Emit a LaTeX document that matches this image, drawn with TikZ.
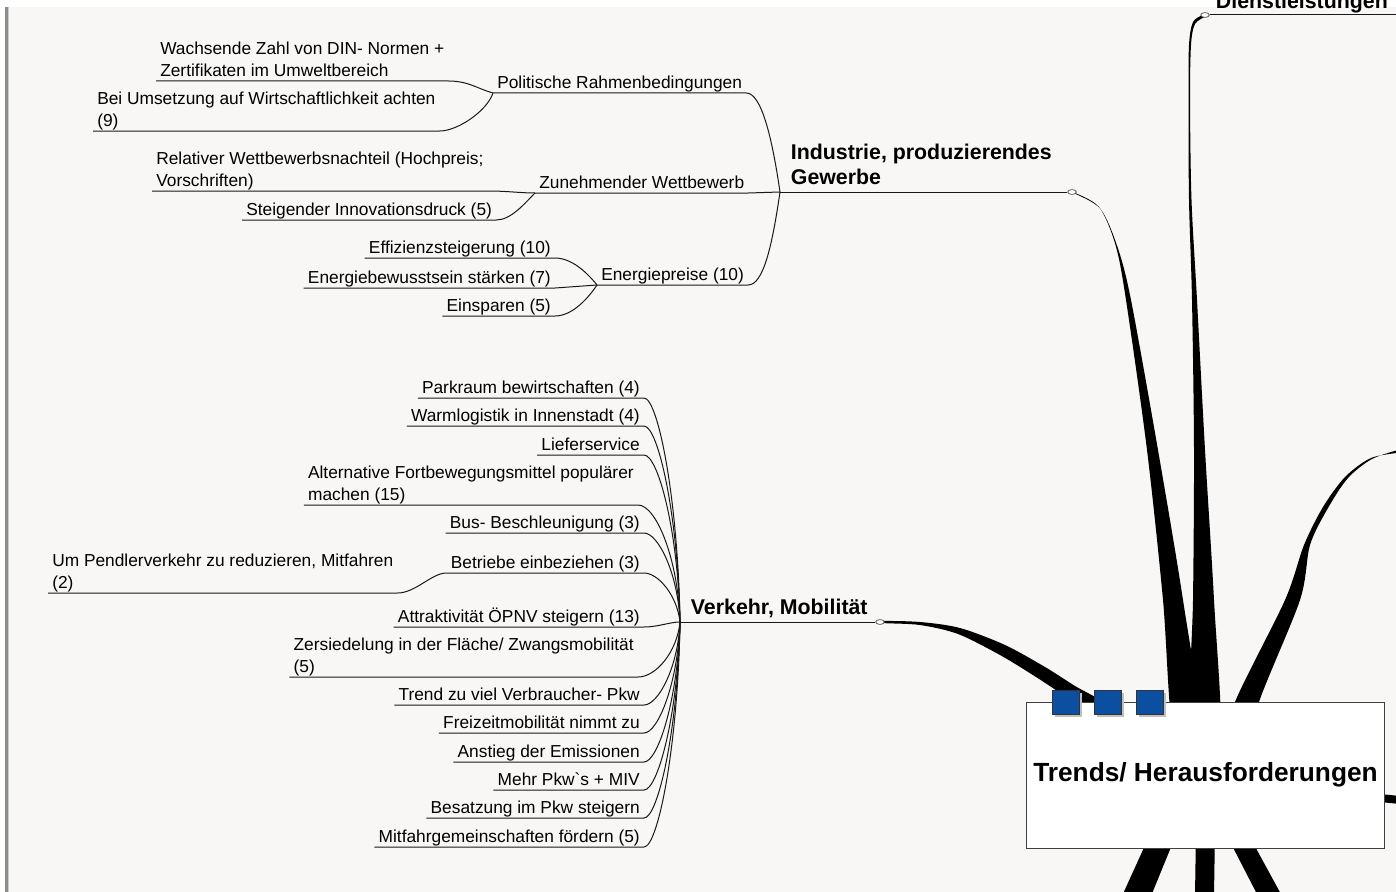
\documentclass[tikz,border=0pt]{standalone}
\usepackage{fontspec}
\setmainfont{Liberation Sans}[Ligatures=TeXOff]
\usetikzlibrary{shapes.geometric,shadows}

\definecolor{paper}{RGB}{248,247,245}
\definecolor{pinblue}{RGB}{12,78,160}
\newcommand{\leaffont}{\fontsize{13}{16.5}\selectfont}
\newcommand{\hubfont}{\fontsize{16}{18.75}\selectfont\bfseries}
\newcommand{\lowstrut}{\rule[-3.2pt]{0pt}{1pt}}
\newcommand{\hubstrut}{\rule[-5.5pt]{0pt}{1pt}}

\tikzset{
  twigs/.style={font=\leaffont, inner xsep=3pt, inner ysep=0pt, align=left},
  twig/.style={twigs, text depth=3.2pt},
  hub/.style={font=\hubfont, inner xsep=8pt, inner ysep=0pt, align=left, anchor=south west},
  wire/.style={line width=0.75pt, black!90},
  knob/.style={ellipse, draw=black!75, fill=white, line width=0.5pt, minimum width=6.5pt, minimum height=3.6pt, inner sep=0pt},
  pin/.style={draw=black!80, fill=pinblue, line width=0.6pt, minimum width=20pt, minimum height=18pt, inner sep=0pt,
    drop shadow={shadow xshift=2pt, shadow yshift=-2pt, fill=black!25, opacity=1}},
  stem/.style={fill=black}
}

\begin{document}
\begin{tikzpicture}[x=0.75pt, y=-0.75pt]
    \useasboundingbox (0,0) rectangle (1396,892);
    \clip (0,0) rectangle (1396,892);
    % window background and frame
    \fill[paper] (0,0) rectangle (1396,892);
    \fill[white] (0,0) rectangle (1396,7);
    \fill[white] (0,0) rectangle (5,892);
    \fill[black!45] (5,7) rectangle (8,892);
    \fill[black!20] (8,7) rectangle (9,892);

    % thick stems running into the centre
    \fill[stem] plot[smooth cycle, tension=0.5] coordinates {(1203,15) (1193,22) (1189,45) (1188.5,100) (1189,200) (1192,300) (1194,450) (1193,600) (1190,740) (1220,740) (1214,600) (1205,450) (1197,300) (1191.5,200) (1190,100) (1191,45) (1195,24) (1206,16)};
    \fill[stem] plot[smooth cycle, tension=0.5] coordinates {(1072,191.5) (1099,207) (1115.5,245) (1126,300) (1147,450) (1163,600) (1174,740) (1202,740) (1183,600) (1158,450) (1131,300) (1117.5,247) (1100.5,209) (1074,193)};
    \fill[stem] plot[smooth cycle, tension=0.5] coordinates {(1402,449) (1372,459) (1348,478) (1328,508) (1310,545) (1300,600) (1259,702) (1255,740) (1230,740) (1235,702) (1285,600) (1304,545) (1323,507) (1345,477) (1371,458) (1402,452)};
    \fill[stem] plot[smooth cycle, tension=0.5] coordinates {(882,621) (920,622) (960,628) (1005,645) (1045,667) (1075,686) (1105,704) (1095,718) (1066,697) (1036,677) (1000,655) (958,634) (920,625) (882,623)};
    \fill[stem] (1380,794) -- (1400,796) -- (1400,804) -- (1380,802) -- cycle;
    \fill[stem] (1152,830) -- (1178,830) -- (1151,896) -- (1122,896) -- cycle;
    \fill[stem] (1196,830) -- (1215,830) -- (1214,896) -- (1195,896) -- cycle;
    \fill[stem] (1224,830) -- (1246,830) -- (1282,896) -- (1258,896) -- cycle;

    % central topic
    \node[draw=black!75, fill=white, line width=0.75pt, minimum width=269pt, minimum height=109.5pt, inner sep=0pt,
      font=\fontsize{19.7}{24}\selectfont\bfseries] (trends) at (1205.5,775) {Trends/ Herausforderungen};
    \node[pin] (pinA) at (1066,702) {};
    \node[pin] (pinB) at (1108,702) {};
    \node[pin] (pinC) at (1150,702) {};

    % Dienstleistungen (cut off at the top)
    \node[knob] (dlk) at (1205,15) {};
    \node[hub] (dl) at (1205,16) {Dienstleistungen\hubstrut};
    \coordinate (dlend) at (1396,15);
    \draw[wire] (dlk.east) -- (dlend);

    % Industrie, produzierendes Gewerbe
    \node[hub] (ind) at (780,192) {Industrie, produzierendes\\Gewerbe\hubstrut};
    \node[knob] (indk) at (1072,192) {};
    \draw[wire] (ind.south west) -- (indk.west);
    \node[twig, anchor=south west] (pol) at (493,93) {Politische Rahmenbedingungen};
    \node[twig, anchor=south west] (zun) at (535,193) {Zunehmender Wettbewerb};
    \node[twig, anchor=south west] (ene) at (597,285) {Energiepreise (10)};
    \node[twigs, anchor=south west] (wac) at (156,81) {Wachsende Zahl von DIN- Normen +\\Zertifikaten im Umweltbereich\lowstrut};
    \node[twigs, anchor=south west] (bei) at (93,131) {Bei Umsetzung auf Wirtschaftlichkeit achten\\(9)\lowstrut};
    \node[twigs, anchor=south west] (rel) at (152,191) {Relativer Wettbewerbsnachteil (Hochpreis;\\Vorschriften)\lowstrut};
    \node[twig, anchor=south west] (ste) at (242,220) {Steigender Innovationsdruck (5)};
    \node[twig, anchor=south east] (eff) at (555,258) {Effizienzsteigerung (10)};
    \node[twig, anchor=south east] (enb) at (555,288) {Energiebewusstsein stärken (7)};
    \node[twig, anchor=south east] (ein) at (555,316) {Einsparen (5)};
    \draw[wire] (pol.south west) -- (pol.south east) .. controls +(15,0) and +(-8,-55) .. (ind.south west);
    \draw[wire] (zun.south west) -- (zun.south east) -- (ind.south west);
    \draw[wire] (ene.south west) -- (ene.south east) .. controls +(15,0) and +(-8,55) .. (ind.south west);
    \draw[wire] (wac.south west) -- (wac.south east) .. controls +(20,0) and +(-15,-4) .. (pol.south west);
    \draw[wire] (bei.south west) -- (bei.south east) .. controls +(18,0) and +(-6,18) .. (pol.south west);
    \draw[wire] (rel.south west) -- (rel.south east) .. controls +(20,0) and +(-15,0) .. (zun.south west);
    \draw[wire] (ste.south west) -- (ste.south east) .. controls +(15,0) and +(-10,10) .. (zun.south west);
    \draw[wire] (eff.south west) -- (eff.south east) .. controls +(18,0) and +(-8,-10) .. (ene.south west);
    \draw[wire] (enb.south west) -- (enb.south east) -- (ene.south west);
    \draw[wire] (ein.south west) -- (ein.south east) .. controls +(18,0) and +(-8,12) .. (ene.south west);

    % Verkehr, Mobilitaet
    \node[hub] (vk) at (680,622) {Verkehr, Mobilität\hubstrut};
    \node[knob] (vkk) at (880,622) {};
    \draw[wire] (vk.south west) -- (vkk.west);
    \node[twig, anchor=south east] (par) at (644,398) {Parkraum bewirtschaften (4)};
    \node[twig, anchor=south east] (war) at (644,426) {Warmlogistik in Innenstadt (4)};
    \node[twig, anchor=south east] (lie) at (644,455) {Lieferservice};
    \node[twigs, anchor=south east] (alt) at (638,505) {Alternative Fortbewegungsmittel populärer\\machen (15)\lowstrut};
    \node[twig, anchor=south east] (bus) at (644,533) {Bus- Beschleunigung (3)};
    \node[twig, anchor=south east] (bet) at (644,573) {Betriebe einbeziehen (3)};
    \node[twigs, anchor=south west] (pen) at (48,593) {Um Pendlerverkehr zu reduzieren, Mitfahren\\(2)\lowstrut};
    \node[twig, anchor=south east] (att) at (644,627) {Attraktivität ÖPNV steigern (13)};
    \node[twigs, anchor=south east] (zer) at (638,677) {Zersiedelung in der Fläche/ Zwangsmobilität\\(5)\lowstrut};
    \node[twig, anchor=south east] (tre) at (644,705) {Trend zu viel Verbraucher- Pkw};
    \node[twig, anchor=south east] (fre) at (644,733) {Freizeitmobilität nimmt zu};
    \node[twig, anchor=south east] (ans) at (644,762) {Anstieg der Emissionen};
    \node[twig, anchor=south east] (meh) at (644,790) {Mehr Pkw\symbol{96}s + MIV};
    \node[twig, anchor=south east] (bes) at (644,818) {Besatzung im Pkw steigern};
    \node[twig, anchor=south east] (mit) at (644,847) {Mitfahrgemeinschaften fördern (5)};
    % fan into the Verkehr junction
    \draw[wire] (par.south west) -- (par.south east) .. controls +(14,0) and +(-2,-123) .. (vk.south west);
    \draw[wire] (war.south west) -- (war.south east) .. controls +(14,0) and +(-2,-108) .. (vk.south west);
    \draw[wire] (lie.south west) -- (lie.south east) .. controls +(14,0) and +(-2,-92) .. (vk.south west);
    \draw[wire] (alt.south west) -- (alt.south east) .. controls +(18,0) and +(-2,-64) .. (vk.south west);
    \draw[wire] (bus.south west) -- (bus.south east) .. controls +(14,0) and +(-2,-49) .. (vk.south west);
    \draw[wire] (bet.south west) -- (bet.south east) .. controls +(14,0) and +(-3,-27) .. (vk.south west);
    \draw[wire] (pen.south west) -- (pen.south east) .. controls +(18,0) and +(-15,0) .. (bet.south west);
    \draw[wire] (att.south west) -- (att.south east) .. controls +(14,0) and +(-10,0) .. (vk.south west);
    \draw[wire] (zer.south west) -- (zer.south east) .. controls +(18,0) and +(-3,30) .. (vk.south west);
    \draw[wire] (tre.south west) -- (tre.south east) .. controls +(14,0) and +(-2,46) .. (vk.south west);
    \draw[wire] (fre.south west) -- (fre.south east) .. controls +(14,0) and +(-2,61) .. (vk.south west);
    \draw[wire] (ans.south west) -- (ans.south east) .. controls +(14,0) and +(-2,77) .. (vk.south west);
    \draw[wire] (meh.south west) -- (meh.south east) .. controls +(14,0) and +(-2,92) .. (vk.south west);
    \draw[wire] (bes.south west) -- (bes.south east) .. controls +(14,0) and +(-2,108) .. (vk.south west);
    \draw[wire] (mit.south west) -- (mit.south east) .. controls +(14,0) and +(-2,124) .. (vk.south west);
\end{tikzpicture}
\end{document}
